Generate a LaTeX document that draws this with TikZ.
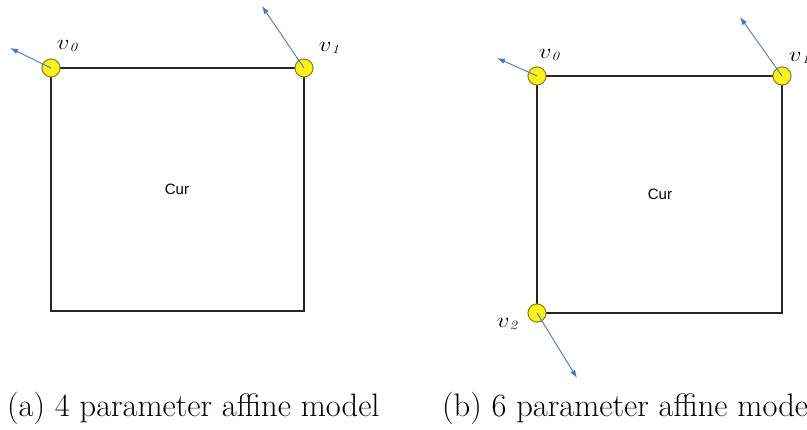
\documentclass[tikz,border=0pt]{standalone}
\usepackage{fontspec}
\newfontfamily\arialfont{Liberation Sans}
\usetikzlibrary{arrows.meta}
\definecolor{vyellow}{HTML}{FFF01E}
\definecolor{vedge}{HTML}{8C8420}
\definecolor{vblue}{HTML}{4A78C0}
\newcommand{\vlab}[1]{\scalebox{1}[0.85]{$v$\raisebox{-2.5pt}{\fontsize{15}{15}\selectfont\itshape #1}}}
\tikzset{
  vertex/.style={circle,draw=vedge,fill=vyellow,line width=0.9pt,minimum size=18pt,inner sep=0pt},
  blockedge/.style={draw=black!85,line width=1.1pt},
  mv/.style={draw=vblue,line width=0.9pt,-{Latex[length=8pt,width=5.5pt]}},
  vlabel/.style={inner sep=0pt,font=\fontsize{28}{30}\selectfont},
  curlabel/.style={inner sep=0pt,font=\arialfont\fontsize{15}{17}\selectfont},
  caption/.style={inner sep=0pt,anchor=base west,font=\fontsize{32.5}{36}\selectfont}
}
\begin{document}
\begin{tikzpicture}[x=1pt,y=-1pt]
\useasboundingbox[clip] (0,0) rectangle (807,430);
% (a)
\coordinate (a2) at (51,311);
\coordinate (a3) at (304,311);
\node[vertex] (a0) at (51,68) {};
\node[vertex] (a1) at (304,68) {};
\path[blockedge] (a0.center) -- (a1.center) -- (a3) -- (a2) -- cycle;
\node[vertex] at (a0.center) {};
\node[vertex] at (a1.center) {};
\coordinate (ta0) at (10,48);
\coordinate (ta1) at (262,6);
\draw[mv] (a0.center) -- (ta0);
\draw[mv] (a1.center) -- (ta1);
\node[vlabel] (la0) at (67,46) {\vlab{0}};
\node[vlabel] (la1) at (329,48) {\vlab{1}};
\node[curlabel] (ca) at (177,189) {Cur};
\node[caption] (capa) at (7,417) {(a) 4 parameter affine model};
% (b)
\coordinate (b3) at (782,313);
\node[vertex] (b0) at (537,76) {};
\node[vertex] (b1) at (782,76) {};
\node[vertex] (b2) at (537,313) {};
\path[blockedge] (b0.center) -- (b1.center) -- (b3) -- (b2.center) -- cycle;
\node[vertex] at (b0.center) {};
\node[vertex] at (b1.center) {};
\node[vertex] at (b2.center) {};
\coordinate (tb0) at (497,58);
\coordinate (tb1) at (740,17);
\coordinate (tb2) at (577,378);
\draw[mv] (b0.center) -- (tb0);
\draw[mv] (b1.center) -- (tb1);
\draw[mv] (b2.center) -- (tb2);
\node[vlabel] (lb0) at (549,55) {\vlab{0}};
\node[vlabel] (lb1) at (799,58) {\vlab{1}};
\node[vlabel] (lb2) at (507,324) {\vlab{2}};
\node[curlabel] (cb) at (660,194) {Cur};
\node[caption] (capb) at (442,417) {(b) 6 parameter affine model};
\end{tikzpicture}
\end{document}
